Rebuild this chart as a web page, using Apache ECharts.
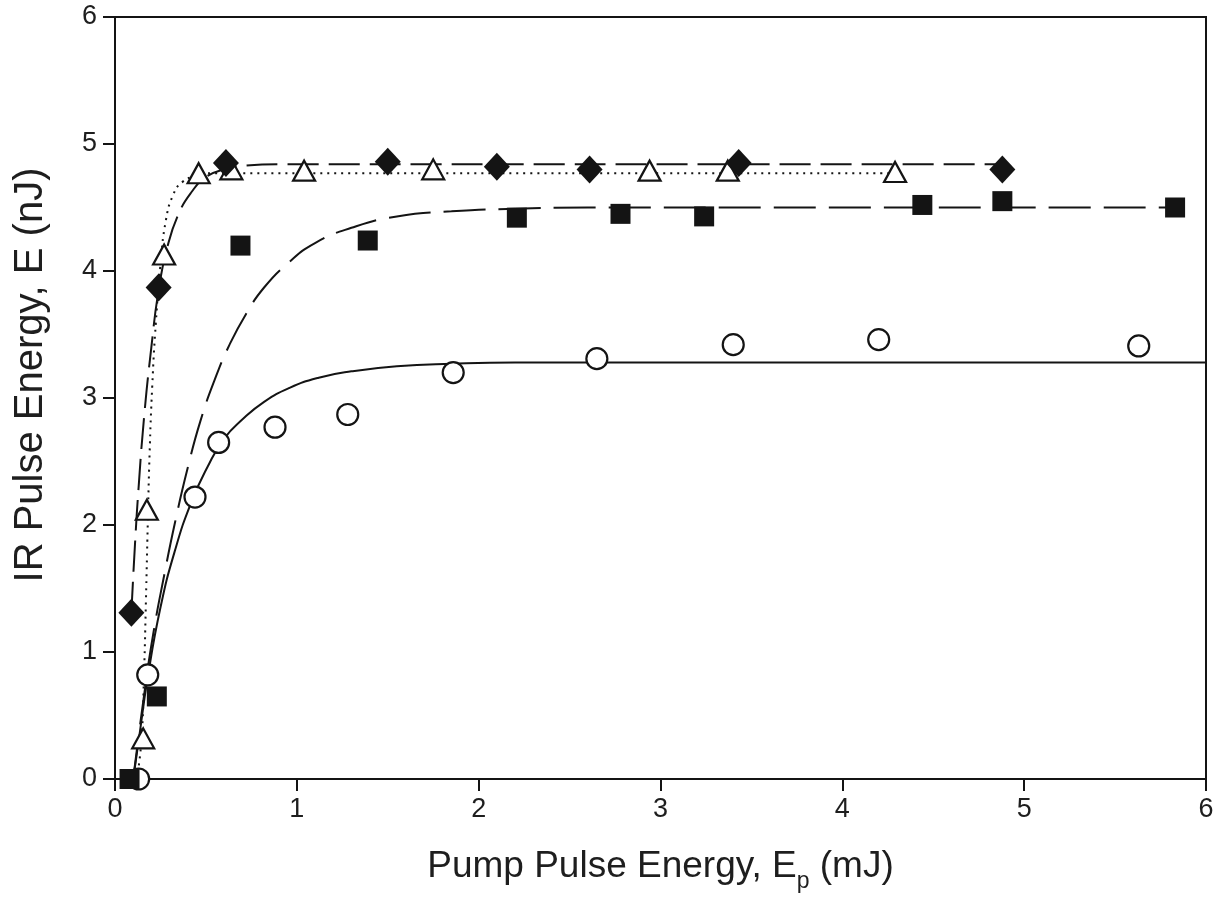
<!DOCTYPE html>
<html>
<head>
<meta charset="utf-8">
<script src="https://cdn.jsdelivr.net/npm/echarts@6/dist/echarts.min.js"></script>
<style>html,body{margin:0;padding:0;background:#fff;}#c{width:1217px;height:913px;}</style>
</head>
<body>
<div id="c"></div>
<script>
// ---- data ----
var xTicks = [0, 1, 2, 3, 4, 5, 6];
var yTicks = [0, 1, 2, 3, 4, 5, 6];

var circlesX = [0.13, 0.18, 0.44, 0.57, 0.88, 1.28, 1.86, 2.65, 3.40, 4.20, 5.63];
var circlesY = [0.00, 0.82, 2.22, 2.65, 2.77, 2.87, 3.20, 3.31, 3.42, 3.46, 3.41];

var squaresX = [0.08, 0.23, 0.69, 1.39, 2.21, 2.78, 3.24, 4.44, 4.88, 5.83];
var squaresY = [0.00, 0.65, 4.20, 4.24, 4.42, 4.45, 4.43, 4.52, 4.55, 4.50];

var diamondsX = [0.09, 0.24, 0.61, 1.50, 2.10, 2.61, 3.43, 4.88];
var diamondsY = [1.31, 3.87, 4.85, 4.86, 4.82, 4.80, 4.85, 4.80];

var trianglesX = [0.155, 0.175, 0.27, 0.46, 0.64, 1.04, 1.75, 2.94, 3.37, 4.29];
var trianglesY = [0.32, 2.12, 4.13, 4.77, 4.80, 4.79, 4.80, 4.79, 4.79, 4.78];

// fitted curves, read as points along each drawn curve
var fitCircleX = [0.10, 0.13, 0.18, 0.25, 0.33, 0.42, 0.51, 0.60, 0.70, 0.82, 0.96, 1.12, 1.30, 1.55, 1.85, 2.20, 2.65, 6.00];
var fitCircleY = [0.00, 0.30, 0.80, 1.35, 1.80, 2.18, 2.46, 2.68, 2.83, 2.97, 3.08, 3.16, 3.21, 3.25, 3.27, 3.28, 3.28, 3.28];

var fitSquareX = [0.10, 0.16, 0.21, 0.27, 0.33, 0.40, 0.47, 0.55, 0.63, 0.72, 0.82, 0.95, 1.10, 1.30, 1.55, 1.85, 2.20, 2.60, 5.83];
var fitSquareY = [0.00, 0.66, 1.14, 1.60, 2.02, 2.45, 2.82, 3.15, 3.42, 3.66, 3.87, 4.06, 4.22, 4.34, 4.43, 4.47, 4.49, 4.50, 4.50];

var fitDiamondX = [0.09, 0.11, 0.13, 0.16, 0.20, 0.24, 0.29, 0.35, 0.42, 0.50, 0.60, 0.72, 0.90, 4.88];
var fitDiamondY = [1.31, 1.85, 2.30, 2.85, 3.40, 3.85, 4.20, 4.45, 4.62, 4.74, 4.80, 4.83, 4.84, 4.84];

var fitTriX = [0.12, 0.145, 0.16, 0.17, 0.18, 0.19, 0.205, 0.225, 0.25, 0.28, 0.32, 0.37, 0.45, 0.55, 4.29];
var fitTriY = [0.00, 0.30, 0.85, 1.40, 2.00, 2.55, 3.10, 3.60, 4.05, 4.40, 4.60, 4.70, 4.75, 4.77, 4.77];

function pairs(xs, ys) { return xs.map(function (x, i) { return [x, ys[i]]; }); }

var ink = '#141414';
var txt = '#1e1e1e';
var FONT = '"Liberation Sans", Arial, Helvetica, sans-serif';

var chart = echarts.init(document.getElementById('c'), null, { renderer: 'canvas' });

function fitLine(name, xs, ys, dash) {
  return {
    name: name, type: 'line', data: pairs(xs, ys),
    showSymbol: false, symbol: 'none', smooth: 0.5,
    lineStyle: { color: ink, width: 2, type: dash, cap: 'butt', opacity: 1 },
    z: 2, silent: true, animation: false
  };
}
function pts(name, xs, ys, symbol, size, filled) {
  return {
    name: name, type: 'scatter', data: pairs(xs, ys), symbol: symbol, symbolSize: size,
    itemStyle: filled ? { color: ink, borderColor: ink, borderWidth: 0, opacity: 1 }
                      : { color: '#ffffff', borderColor: ink, borderWidth: 2.2, opacity: 1 },
    z: 5, silent: true, animation: false
  };
}

chart.setOption({
  animation: false,
  backgroundColor: '#ffffff',
  grid: { left: 115, top: 17, right: 11, bottom: 134, show: true, borderColor: ink, borderWidth: 2, backgroundColor: 'transparent' },
  xAxis: {
    type: 'value', min: 0, max: 6, interval: 1,
    name: '{a|Pump Pulse Energy, E}{s|p}{a| (mJ)}',
    nameLocation: 'middle', nameGap: 60,
    nameTextStyle: {
      rich: {
        a: { fontFamily: FONT, fontSize: 37, color: txt, lineHeight: 46, verticalAlign: 'bottom' },
        s: { fontFamily: FONT, fontSize: 23, color: txt, lineHeight: 30, verticalAlign: 'bottom', padding: [0, 0, -8, 0] }
      }
    },
    axisLine: { show: true, onZero: false, lineStyle: { color: ink, width: 2 } },
    axisTick: { show: true, inside: false, length: 12, lineStyle: { color: ink, width: 2 } },
    axisLabel: { margin: 17, fontFamily: FONT, fontSize: 27, color: txt, formatter: function (v) { return xTicks.indexOf(v) >= 0 ? String(v) : ''; } },
    splitLine: { show: false }
  },
  yAxis: {
    type: 'value', min: 0, max: 6, interval: 1,
    name: 'IR Pulse Energy, E (nJ)',
    nameLocation: 'middle', nameGap: 64, nameRotate: 90,
    nameTextStyle: { fontFamily: FONT, fontSize: 40, color: txt, padding: [0, 0, 0, 46] },
    axisLine: { show: true, onZero: false, lineStyle: { color: ink, width: 2 } },
    axisTick: { show: true, inside: false, length: 12, lineStyle: { color: ink, width: 2 } },
    axisLabel: { margin: 18, fontFamily: FONT, fontSize: 27, color: txt, formatter: function (v) { return yTicks.indexOf(v) >= 0 ? String(v) : ''; } },
    splitLine: { show: false }
  },
  series: [
    fitLine('fitCircle', fitCircleX, fitCircleY, 'solid'),
    fitLine('fitSquare', fitSquareX, fitSquareY, [42, 13]),
    fitLine('fitDiamond', fitDiamondX, fitDiamondY, [31, 10]),
    fitLine('fitTri', fitTriX, fitTriY, [2, 5]),
    pts('circles', circlesX, circlesY, 'circle', 21, false),
    pts('squares', squaresX, squaresY, 'rect', 20, true),
    pts('triangles', trianglesX, trianglesY, 'triangle', [22, 20], false),
    pts('diamonds', diamondsX, diamondsY, 'diamond', [26, 28], true)
  ]
});
</script>
</body>
</html>
